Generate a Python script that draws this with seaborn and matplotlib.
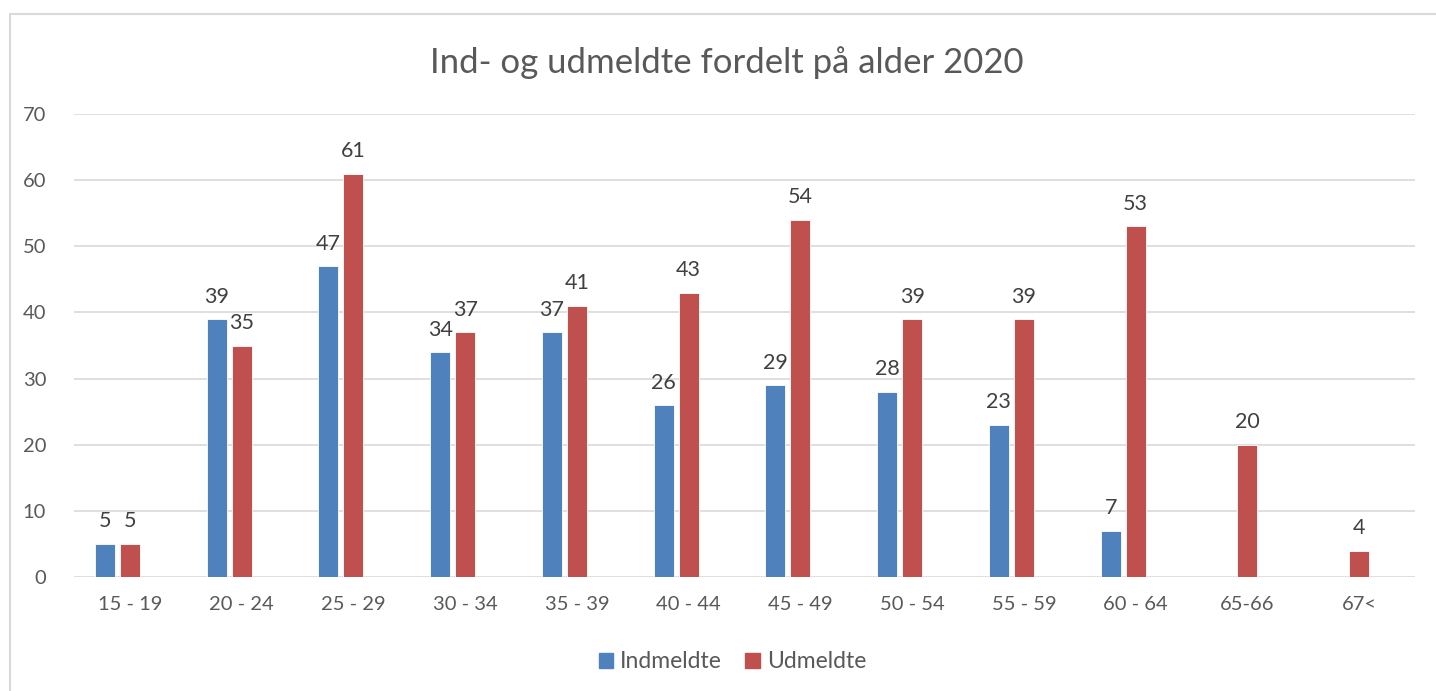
import numpy as np
import pandas as pd
import matplotlib.pyplot as plt
import seaborn as sns
from matplotlib.patches import Patch, Rectangle

aldre = ["15 - 19", "20 - 24", "25 - 29", "30 - 34", "35 - 39", "40 - 44",
         "45 - 49", "50 - 54", "55 - 59", "60 - 64", "65-66", "67<"]
indmeldte = [5, 39, 47, 34, 37, 26, 29, 28, 23, 7, np.nan, np.nan]
udmeldte = [5, 35, 61, 37, 41, 43, 54, 39, 39, 53, 20, 4]
# tom tredje serie, som i Excel-arket (skubber de to synlige søjler til venstre)
tom = [np.nan] * len(aldre)

farver = {"Indmeldte": "#4F81BD", "Udmeldte": "#C0504D", "tom": "#FFFFFF"}

df = pd.concat([
    pd.DataFrame({"Alder": aldre, "Antal": indmeldte, "Serie": "Indmeldte"}),
    pd.DataFrame({"Alder": aldre, "Antal": udmeldte, "Serie": "Udmeldte"}),
    pd.DataFrame({"Alder": aldre, "Antal": tom, "Serie": "tom"}),
], ignore_index=True)

sns.set_style("white")
plt.rcParams["font.family"] = ["Lato", "DejaVu Sans"]

fig = plt.figure(figsize=(14.36, 6.91), dpi=100)
ax = fig.add_axes([74 / 1436, 114 / 691, 1341 / 1436, 463 / 691])

sns.barplot(data=df, x="Alder", y="Antal", hue="Serie", order=aldre,
            hue_order=["Indmeldte", "Udmeldte", "tom"], palette=farver,
            saturation=1, width=0.671, gap=0.2, edgecolor="#FFFFFF",
            linewidth=0.6, legend=False, ax=ax, zorder=3)

for c in ax.containers:
    ax.bar_label(c, fmt="%g", padding=9, fontsize=15.5, color="#404040")

ax.set_ylim(0, 70)
ax.set_yticks(range(0, 71, 10))
ax.set_xlim(-0.5, len(aldre) - 0.5)
ax.yaxis.grid(True, color="#D9D9D9", linewidth=1.2, zorder=0)
ax.set_axisbelow(True)
sns.despine(ax=ax, left=True, bottom=True, top=True, right=True)
ax.tick_params(axis="both", length=0, labelsize=14.5, colors="#595959")
ax.tick_params(axis="y", pad=20)
ax.tick_params(axis="x", pad=14)
ax.set_xlabel("")
ax.set_ylabel("")

fig.text(0.506, 0.91, "Ind- og udmeldte fordelt på alder 2020",
         ha="center", va="center", fontsize=25, color="#595959")

handles = [Patch(color=farver["Indmeldte"]), Patch(color=farver["Udmeldte"])]
fig.legend(handles, ["Indmeldte", "Udmeldte"], loc="center",
           bbox_to_anchor=(0.51, 0.042), ncol=2, frameon=False,
           fontsize=16.5, labelcolor="#595959", handlelength=0.65,
           handleheight=0.65, handletextpad=0.3, columnspacing=1.0)

fig.patches.append(Rectangle((10 / 1436, -0.1), 1.2, 0.1 + 677 / 691,
                             transform=fig.transFigure, fill=False,
                             edgecolor="#D9D9D9", linewidth=1.5))

fig.savefig("out.png", dpi=100, facecolor="white")
